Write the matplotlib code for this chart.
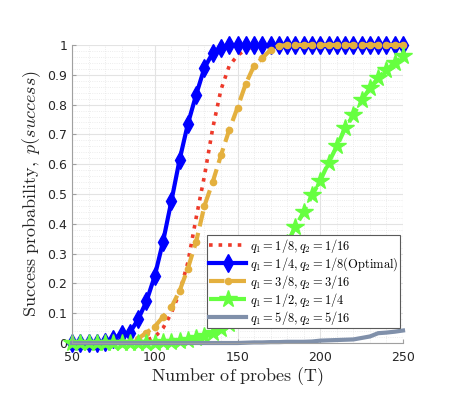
import numpy as np
import matplotlib
matplotlib.use('Agg')
import matplotlib.pyplot as plt
from matplotlib.ticker import MultipleLocator

#--- DATA ---
T = list(range(50, 255, 5))

p_red = [0, 0, 0, 0, 0, 0, 0, 0, 0, 0.01, 0.02, 0.05, 0.10, 0.17, 0.27, 0.42, 0.56, 0.72, 0.85,
         0.93, 0.965, 0.985, 0.995, 1, 1, 1, 1, 1, 1, 1, 1, 1, 1, 1, 1, 1, 1, 1, 1, 1, 1]
p_blue = [0, 0, 0, 0, 0.005, 0.015, 0.03, 0.035, 0.08, 0.14, 0.225, 0.34, 0.475, 0.615, 0.735,
          0.833, 0.923, 0.973, 0.99, 1, 1, 1, 1, 1, 1, 1, 1, 1, 1, 1, 1, 1, 1, 1, 1, 1, 1, 1, 1, 1, 1]
p_gold = [0, 0, 0, 0, 0, 0, 0, 0.005, 0.015, 0.035, 0.055, 0.088, 0.12, 0.175, 0.25, 0.34, 0.46,
          0.54, 0.63, 0.715, 0.79, 0.87, 0.93, 0.956, 0.984, 0.997, 1, 1, 1, 1, 1, 1, 1, 1, 1, 1, 1,
          1, 1, 1, 1]
p_green = [0, 0, 0, 0, 0, 0, 0, 0, 0, 0, 0, 0.002, 0.003, 0.006, 0.01, 0.016, 0.025, 0.035, 0.048,
           0.065, 0.085, 0.11, 0.14, 0.18, 0.23, 0.28, 0.335, 0.39, 0.44, 0.495, 0.545, 0.605,
           0.66, 0.72, 0.765, 0.815, 0.855, 0.89, 0.917, 0.94, 0.962]
p_gray = [0, 0, 0, 0, 0, 0, 0, 0, 0, 0, 0, 0, 0, 0, 0, 0, 0, 0, 0, 0, 0, 0.001, 0.002, 0.002,
          0.003, 0.003, 0.004, 0.004, 0.004, 0.005, 0.008, 0.009, 0.01, 0.011, 0.012, 0.017,
          0.022, 0.033, 0.035, 0.038, 0.042]

labels = [r'$q_1 = 1/8, q_2 = 1/16$',
          r'$q_1 = 1/4, q_2 = 1/8\mathrm{(Optimal)}$',
          r'$q_1 = 3/8, q_2 = 3/16$',
          r'$q_1 = 1/2, q_2 = 1/4$',
          r'$q_1 = 5/8, q_2 = 5/16$']

#--- STYLE ---
plt.rcParams['mathtext.fontset'] = 'cm'
plt.rcParams['font.family'] = 'DejaVu Sans'

fig = plt.figure(figsize=(4.54, 3.94), dpi=100)
ax = fig.add_axes([0.1586, 0.1294, 0.7291, 0.7564])

ax.plot(T, p_red, linestyle=':', color='#ee3a2a', linewidth=2.6, label=labels[0])
ax.plot(T, p_blue, '-', color='#0000ff', linewidth=3, marker='d', markersize=9,
        label=labels[1], clip_on=False)
ax.plot(T, p_gold, '--', color='#e4b03e', linewidth=3, marker='o', markersize=4.5,
        label=labels[2], clip_on=False)
ax.plot(T, p_green, '--', color='#66ff40', linewidth=3, marker='*', markersize=13,
        label=labels[3], clip_on=False)
ax.plot(T, p_gray, '-', color='#8090aa', linewidth=3, label=labels[4], clip_on=False)

ax.set_xlim(50, 250)
ax.set_ylim(0, 1)
ax.set_xticks([50, 100, 150, 200, 250])
ax.set_yticks(np.arange(0, 1.01, 0.1))
ax.set_yticklabels(['0', '0.1', '0.2', '0.3', '0.4', '0.5', '0.6', '0.7', '0.8', '0.9', '1'])
ax.xaxis.set_minor_locator(MultipleLocator(10))
ax.yaxis.set_minor_locator(MultipleLocator(0.02))

ax.grid(which='major', color='#e3e3e3', linewidth=0.8, linestyle='-')
ax.grid(which='minor', color='#e6e6e6', linewidth=0.6, linestyle=':')
ax.set_axisbelow(True)

for side in ['top', 'right']:
    ax.spines[side].set_visible(False)
for side in ['left', 'bottom']:
    ax.spines[side].set_color('#a0a0a0')
ax.tick_params(which='both', direction='in', colors='#a0a0a0', labelcolor='#262626', labelsize=9)
ax.tick_params(which='major', length=3)
ax.tick_params(axis='x', pad=6)
ax.tick_params(which='minor', length=0)

ax.set_xlabel(r'$\mathrm{Number\ of\ probes\ (T)}$', fontsize=13, color='#262626', labelpad=1)
ax.set_ylabel(r'$\mathrm{Success\ probability,}\ p(success)$', fontsize=13, color='#262626', labelpad=3)

leg = ax.legend(loc='upper left', bbox_to_anchor=(0.456, 0.4036), bbox_transform=fig.transFigure,
                fontsize=9, fancybox=False, framealpha=1, edgecolor='#5a5a5a',
                handlelength=3.0, handletextpad=0.25, borderpad=0.15, labelspacing=0.0,
                borderaxespad=0)
leg.get_frame().set_linewidth(0.8)

plt.savefig('out.png', dpi=100)
